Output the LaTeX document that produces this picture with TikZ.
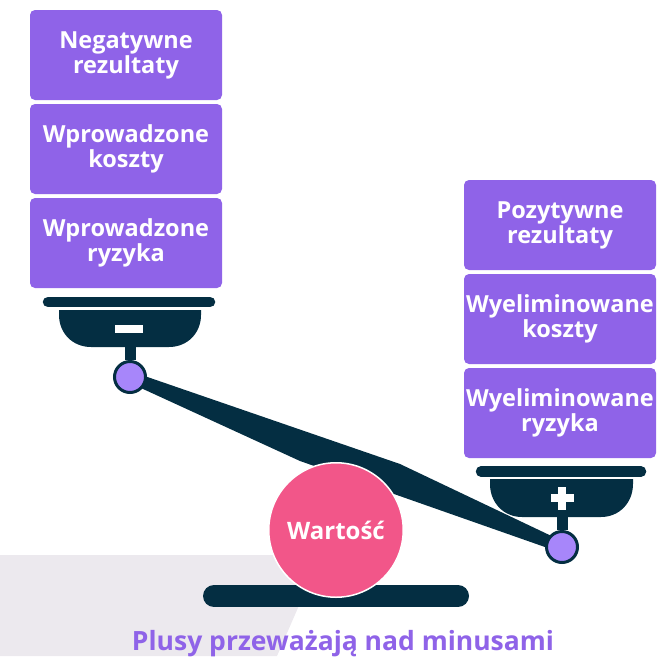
\documentclass[tikz,border=0pt]{standalone}
\usepackage{fontspec}
\setmainfont{Open Sans}
\usetikzlibrary{calc}
\definecolor{boxpurple}{HTML}{8F63E8}
\definecolor{knobpurple}{HTML}{A786FA}
\definecolor{navy}{HTML}{042E42}
\definecolor{valuepink}{HTML}{F25689}
\definecolor{floorgray}{HTML}{ECE9EE}
\begin{document}
\begin{tikzpicture}[x=1pt, y=-1pt,
    box/.style={fill=boxpurple, rounded corners=5pt, minimum width=192pt, minimum height=90pt,
        inner sep=0pt, align=center, text=white, font=\bfseries\fontsize{23.5}{25}\selectfont},
    knob/.style={circle, fill=knobpurple, draw=navy, line width=3pt, minimum size=31pt, inner sep=0pt},
    panbar/.style={navy, line width=10.5pt, line cap=round},
    stem/.style={navy, line width=11pt}]
    \useasboundingbox (0,0) rectangle (661,656);

    % Floor
    \fill[floorgray] (0,555) -- (321,555) -- (277,656) -- (0,656) -- cycle;

    % Left pan (minus)
    \node[box] (negres) at (126,55) {Negatywne\\rezultaty};
    \node[box] (addcost) at (126,149) {Wprowadzone\\koszty};
    \node[box] (addrisk) at (126,243) {Wprowadzone\\ryzyka};
    \draw[panbar] (48,302) -- (210,302);
    \fill[navy] (59,310) -- (201,310) -- (201,315) .. controls (201,333) and (187.5,347) .. (169,347)
        -- (91,347) .. controls (72.5,347) and (59,333) .. (59,315) -- cycle;
    \fill[white] (115,325) rectangle (143,333);
    \coordinate (bowlL) at (130,345);
    \coordinate (pivotL) at (130,377);

    % Right pan (plus)
    \node[box] (posres) at (560,225) {Pozytywne\\rezultaty};
    \node[box] (dropcost) at (560,319) {Wyeliminowane\\koszty};
    \node[box] (droprisk) at (560,413) {Wyeliminowane\\ryzyka};
    \draw[panbar] (481,471.5) -- (641,471.5);
    \fill[navy] (490,479) -- (633,479) -- (633,484) .. controls (633,502.5) and (619.5,517) .. (601,517)
        -- (522,517) .. controls (503.5,517) and (490,502.5) .. (490,484) -- cycle;
    \fill[white] (550.5,494) rectangle (573.5,502);
    \fill[white] (558,486.5) rectangle (566,509.5);
    \coordinate (bowlR) at (562,515);
    \coordinate (pivotR) at (562,547);

    % Beam
    \fill[navy] ($(pivotL)+(0,-6)$) -- (400,464) -- ($(pivotR)+(0,-6)$)
        -- ($(pivotR)+(0,6)$) -- (300,461) -- ($(pivotL)+(0,6)$) -- cycle;

    % Knobs and stems
    \node[knob] (knobL) at (pivotL) {};
    \node[knob] (knobR) at (pivotR) {};
    \draw[stem] (bowlL) -- (knobL);
    \draw[stem] (bowlR) -- (knobR);

    % Base and value
    \draw[navy, line width=22pt, line cap=round] (214,596) -- (458,596);
    \node[circle, fill=valuepink, draw=white, line width=1.5pt, minimum size=134.5pt, inner sep=0pt,
        text=white, font=\bfseries\fontsize{24}{26}\selectfont] (value) at (336,530) {Wartość};

    % Caption
    \node[anchor=base, text=boxpurple, font=\bfseries\fontsize{26.5}{30}\selectfont] (caption) at (343,650)
        {Plusy przeważają nad minusami};
\end{tikzpicture}
\end{document}
